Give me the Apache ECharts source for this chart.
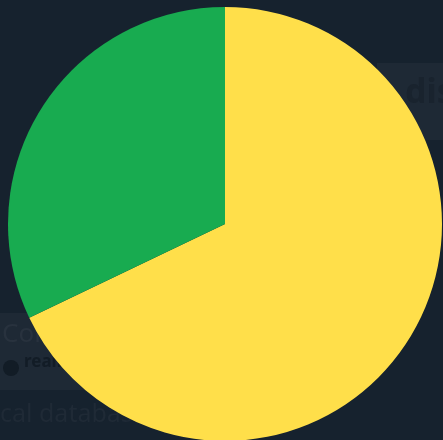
<!DOCTYPE html>
<html>
<head>
<meta charset="utf-8">
<script src="https://cdn.jsdelivr.net/npm/echarts@6/dist/echarts.min.js"></script>
<style>
  html, body { margin: 0; padding: 0; background: #16222e; }
  #chart { width: 443px; height: 440px; }
</style>
</head>
<body>
<div id="chart"></div>
<script>
// slice names and shares
var names = ['A', 'B'];
var values = [67.9, 32.1];
var colors = ['#ffdf4a', '#18ab50'];

var chart = echarts.init(document.getElementById('chart'));
var option = {
  backgroundColor: '#16222e',
  animation: false,
  // faint page furniture behind the pie
  graphic: [
    { type: 'rect', z: -10, shape: { x: 0, y: 313, width: 200, height: 77 }, style: { fill: '#1e2935' } },
    { type: 'rect', z: -10, shape: { x: 377, y: 63, width: 66, height: 77 }, style: { fill: '#1e2935' } },
    { type: 'text', z: -9, left: 2, top: 322, style: { text: 'Core', fill: '#28323e', font: '26px "Noto Sans"' } },
    { type: 'text', z: -9, left: 24, top: 354, style: { text: 'realm', fill: '#121c26', font: 'bold 17px "Noto Sans"' } },
    { type: 'circle', z: -9, shape: { cx: 11, cy: 368, r: 8 }, style: { fill: '#121c26' } },
    { type: 'text', z: -9, left: 0, top: 402, style: { text: 'cal database', fill: '#1f2a36', font: '25px "Noto Sans"' } },
    { type: 'text', z: -9, left: 405, top: 76, style: { text: 'dis', fill: '#19232e', font: 'bold 34px "Noto Sans"' } }
  ],
  series: [{
    type: 'pie',
    center: [225, 224],
    radius: [0, 217],
    startAngle: 90,
    clockwise: true,
    label: { show: false },
    labelLine: { show: false },
    emphasis: { disabled: true },
    data: names.map(function (n, i) {
      return { name: n, value: values[i], itemStyle: { color: colors[i] } };
    })
  }]
};
chart.setOption(option);
</script>
</body>
</html>
